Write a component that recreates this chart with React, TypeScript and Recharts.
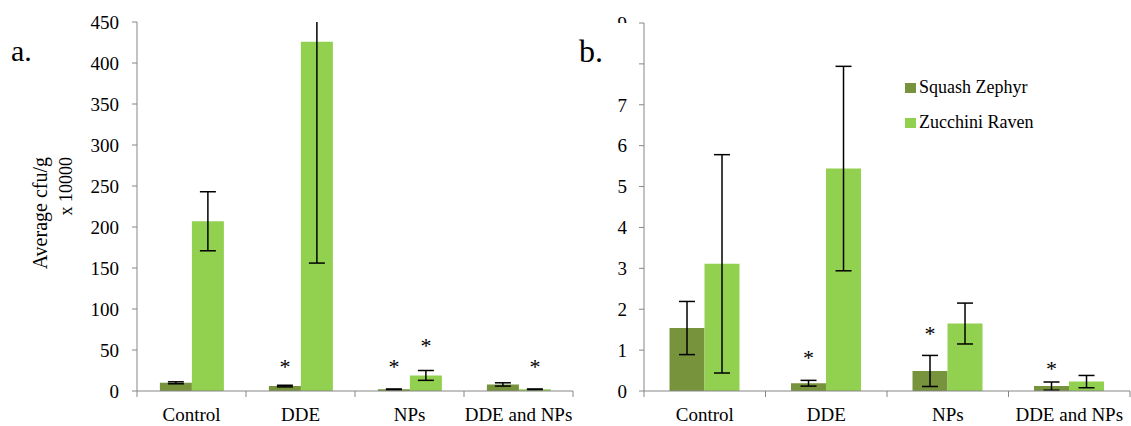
import React from 'react';
import { BarChart, Bar, XAxis, YAxis, ErrorBar, LabelList, Legend } from 'recharts';

const categories = ['Control', 'DDE', 'NPs', 'DDE and NPs'];

// Panel a (Average cfu/g x 10000)
const squashA = [10, 6, 2, 8];
const squashErrA = [1.2, 1, 0.5, 2];
const zucchiniA = [207, 426, 19, 2];
const zucchiniErrA = [36, 270, 6, 0.5];
const squashStarA: (number | null)[] = [null, 34, 34, null];
const zucchiniStarA: (number | null)[] = [null, null, 60, 34];
const ticksA = [0, 50, 100, 150, 200, 250, 300, 350, 400, 450];

// Panel b
const squashB = [1.54, 0.19, 0.49, 0.12];
const squashErrB = [0.65, 0.07, 0.38, 0.1];
const zucchiniB = [3.11, 5.44, 1.65, 0.23];
const zucchiniErrB = [2.67, 2.5, 0.5, 0.15];
const squashStarB: (number | null)[] = [null, 0.9, 1.48, 0.63];
const zucchiniStarB: (number | null)[] = [null, null, null, null];
const ticksB = [0, 1, 2, 3, 4, 5, 6, 7, 8, 9];

const SQUASH = '#77933C';
const ZUCCHINI = '#92D050';
const AXIS = '#868686';
const FONT = 'Liberation Serif';

const buildData = (s: number[], se: number[], z: number[], ze: number[]) =>
  categories.map((c, i) => ({
    category: c,
    squash: s[i],
    squashErr: se[i],
    zucchini: z[i],
    zucchiniErr: ze[i],
  }));

const dataA = buildData(squashA, squashErrA, zucchiniA, zucchiniErrA);
const dataB = buildData(squashB, squashErrB, zucchiniB, zucchiniErrB);

const makeCategoryTick = (band: number) => (props: any) => {
  const { x, y, payload, index } = props;
  const left = x - band / 2;
  const right = x + band / 2;
  return (
    <g>
      <line x1={left} x2={left} y1={y} y2={y + 6} stroke={AXIS} strokeWidth={1} />
      {index === categories.length - 1 && (
        <line x1={right} x2={right} y1={y} y2={y + 6} stroke={AXIS} strokeWidth={1} />
      )}
      <text x={x} y={y + 30} textAnchor="middle" fontSize={19} fontFamily={FONT} fill="#000">
        {payload.value}
      </text>
    </g>
  );
};

const makeStar = (stars: (number | null)[], values: number[]) => (props: any) => {
  const vb = props.viewBox ?? props;
  const index = props.index;
  const s = stars[index];
  if (s == null) return null;
  const v = values[index];
  const x = Number(vb.x);
  const y = Number(vb.y);
  const w = Number(vb.width);
  const h = Number(vb.height);
  const top = Math.min(y, y + h);
  const base = Math.max(y, y + h);
  const pxPer = (base - top) / v;
  const cy = base - s * pxPer;
  return (
    <text x={x + w / 2} y={cy + 11} textAnchor="middle" fontSize={22} fontFamily={FONT} fill="#000">
      *
    </text>
  );
};

const renderLegend = (props: any) => {
  const payload = props.payload || [];
  return (
    <div style={{ fontFamily: FONT, fontSize: 18, color: '#000' }}>
      {payload.map((p: any) => (
        <div key={p.value} style={{ display: 'flex', alignItems: 'center', height: 35 }}>
          <span style={{ display: 'inline-block', width: 11, height: 10, background: p.color, marginRight: 3 }} />
          <span style={{ whiteSpace: 'nowrap', fontFamily: FONT }}>{p.value}</span>
        </div>
      ))}
    </div>
  );
};

const tickStyle = { fontSize: 19, fontFamily: FONT, fill: '#000' };

export default function App() {
  return (
    <div style={{ position: 'absolute', left: 0, top: 0, width: 1131, height: 426, background: '#fff', overflow: 'hidden', fontFamily: FONT }}>
      <div style={{ position: 'absolute', left: 0, top: 0 }}>
        <BarChart
          width={580}
          height={426}
          data={dataA}
          margin={{ top: 22, right: 7, bottom: 0, left: 0 }}
          barCategoryGap="21%"
          barGap={0}
          style={{ fontFamily: FONT }}
        >
          <XAxis
            dataKey="category"
            height={35}
            interval={0}
            tickLine={false}
            tickSize={0}
            tickMargin={0}
            axisLine={{ stroke: AXIS }}
            tick={makeCategoryTick(436 / 4)}
          />
          <YAxis
            width={137}
            domain={[0, 450]}
            ticks={ticksA}
            allowDataOverflow
            tickSize={5}
            tickMargin={13}
            axisLine={{ stroke: AXIS }}
            tickLine={{ stroke: AXIS }}
            tick={tickStyle}
          />
          <Bar dataKey="squash" name="Squash Zephyr" fill={SQUASH} isAnimationActive={false}>
            <ErrorBar dataKey="squashErr" width={8} stroke="#000" strokeWidth={1.5} />
            <LabelList dataKey="squash" content={makeStar(squashStarA, squashA)} />
          </Bar>
          <Bar dataKey="zucchini" name="Zucchini Raven" fill={ZUCCHINI} isAnimationActive={false}>
            <ErrorBar dataKey="zucchiniErr" width={8} stroke="#000" strokeWidth={1.5} />
            <LabelList dataKey="zucchini" content={makeStar(zucchiniStarA, zucchiniA)} />
          </Bar>
        </BarChart>
      </div>

      {/* plot-area clip above panel a (error bar runs past the axis maximum) */}
      <div style={{ position: 'absolute', left: 139, top: 0, width: 440, height: 21.5, background: '#fff' }} />

      <div style={{ position: 'absolute', left: 580, top: 0 }}>
        <BarChart
          width={551}
          height={426}
          data={dataB}
          margin={{ top: 23, right: 1, bottom: 0, left: 0 }}
          barCategoryGap="21%"
          barGap={0}
          style={{ fontFamily: FONT }}
        >
          <XAxis
            dataKey="category"
            height={35}
            interval={0}
            tickLine={false}
            tickSize={0}
            tickMargin={0}
            axisLine={{ stroke: AXIS }}
            tick={makeCategoryTick(486 / 4)}
          />
          <YAxis
            width={64}
            domain={[0, 9]}
            ticks={ticksB}
            allowDataOverflow
            tickSize={5}
            tickMargin={12}
            axisLine={{ stroke: AXIS }}
            tickLine={{ stroke: AXIS }}
            tick={tickStyle}
          />
          <Legend
            layout="vertical"
            align="center"
            verticalAlign="middle"
            wrapperStyle={{ left: 325, top: 70, width: 'auto', fontFamily: FONT }}
            content={renderLegend}
          />
          <Bar dataKey="squash" name="Squash Zephyr" fill={SQUASH} isAnimationActive={false}>
            <ErrorBar dataKey="squashErr" width={8} stroke="#000" strokeWidth={1.5} />
            <LabelList dataKey="squash" content={makeStar(squashStarB, squashB)} />
          </Bar>
          <Bar dataKey="zucchini" name="Zucchini Raven" fill={ZUCCHINI} isAnimationActive={false}>
            <ErrorBar dataKey="zucchiniErr" width={8} stroke="#000" strokeWidth={1.5} />
            <LabelList dataKey="zucchini" content={makeStar(zucchiniStarB, zucchiniB)} />
          </Bar>
        </BarChart>
      </div>

      <svg style={{ position: 'absolute', left: 0, top: 0, pointerEvents: 'none' }} width={100} height={426}>
        <text transform="rotate(-90, 47, 157)" x={47} y={157} textAnchor="end" fontSize={20} fontFamily={FONT} fill="#000">
          Average cfu/g
        </text>
        <text transform="rotate(-90, 72, 157)" x={72} y={157} textAnchor="end" fontSize={18} fontFamily={FONT} fill="#000">
          x 10000
        </text>
      </svg>

      <div style={{ position: 'absolute', left: 11, top: 34, fontFamily: FONT, fontSize: 30, lineHeight: '34px', color: '#000' }}>
        a.
      </div>
      <div style={{ position: 'absolute', left: 576, top: 23, width: 56, height: 58, background: '#fff' }}>
        <div style={{ position: 'absolute', left: 3, top: 10, fontFamily: FONT, fontSize: 32, lineHeight: '36px', color: '#000' }}>
          b.
        </div>
      </div>
    </div>
  );
}
